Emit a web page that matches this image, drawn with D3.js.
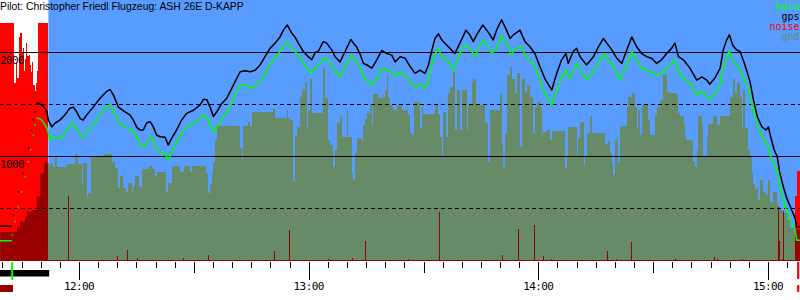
<!DOCTYPE html>
<html>
<head>
<meta charset="utf-8">
<script src="https://cdn.jsdelivr.net/npm/d3@7"></script>
<style>
  body { margin: 0; background: #fff; }
  svg { display: block; }
</style>
</head>
<body>
<script>
// times are minutes relative to 12:00, altitudes in metres
const viewMin = [-20.64, 188.36];
const towZone = [-20.64, -8.0];

const padMin = [-20.64, -17.5];
const padGps = [325, 325];
const padBaro = [185, 185];

const towGpsMin = [-17.2, -15.9, -14.6, -13.2, -12.4, -11.9, -11.5];
const towGpsAlt = [435, 655, 835, 1075, 1250, 1345, 1425];
const towBaroMin = [-17.4, -16.7, -15.9, -15.0, -14.1, -13.2, -12.6, -11.9, -11.5];
const towBaroAlt = [240, 370, 510, 655, 800, 945, 1060, 1200, 1300];

const gpsMin = [-11.2,-10.7,-9.7,-8.9,-8.4,-8.0,-7.1,-6.3,-5.0,-3.7,
  -2.4,-1.5,-0.6,0.3,1.1,2.0,3.7,5.5,7.2,8.1,
  9.0,10.3,12.0,13.3,14.2,15.1,15.9,16.8,17.7,18.6,
  19.4,20.3,21.2,22.5,23.3,24.2,25.5,26.8,28.1,29.9,
  31.6,32.5,33.4,34.2,35.1,36.0,37.3,38.6,39.9,41.2,
  42.1,43.4,44.7,46.0,47.3,48.6,49.9,51.2,52.5,53.4,
  54.4,55.6,56.4,57.3,58.6,59.9,60.8,61.7,62.5,63.8,
  64.7,66.0,66.9,68.2,69.5,71.0,71.7,72.5,73.4,74.3,
  75.2,76.5,77.8,79.1,80.4,81.7,82.6,83.9,85.2,86.5,
  87.8,89.1,90.4,91.3,92.1,93.0,93.9,94.8,96.1,96.9,
  98.2,99.5,101.1,102.1,103.0,103.9,105.5,106.3,107.4,108.2,
  109.1,110.4,111.7,112.6,113.5,115.2,116.5,117.8,119.1,120.4,
  121.7,123.5,124.8,126.1,127.2,127.8,129.1,130.0,130.9,132.6,
  134.4,135.7,137.0,137.9,139.2,140.5,141.8,143.1,144.4,145.7,
  147.0,148.3,149.6,150.9,152.2,153.5,154.8,155.7,156.6,157.9,
  159.6,161.4,162.7,164.0,164.8,166.2,167.5,168.3,169.2,169.9,
  170.8,171.8,172.7,173.6,174.4,175.3,176.2,177.2,178.4,179.5,
  180.1,180.7,181.6,182.4,183.1,184.0,184.9,186.2,187.1,187.5,
  188.4];
const gpsAlt = [1510,1510,1490,1460,1425,1345,1280,1315,1345,1395,
  1460,1470,1425,1360,1345,1395,1470,1555,1620,1640,
  1585,1470,1425,1395,1345,1275,1250,1250,1320,1330,
  1280,1200,1185,1180,1105,1170,1250,1345,1410,1440,
  1490,1545,1540,1475,1380,1425,1505,1555,1650,1745,
  1810,1820,1810,1825,1875,1955,2035,2085,2145,2210,
  2260,2180,2145,2085,2005,1955,1925,1995,2005,2100,
  2085,2020,1955,1905,2005,2120,2085,2050,1985,1890,
  1875,1845,1925,2015,1985,1970,1905,1955,1940,1860,
  1795,1825,1795,1875,2005,2130,2175,2115,2065,2035,
  1985,2085,2210,2165,2100,2165,2260,2220,2165,2115,
  2210,2310,2210,2130,2165,2210,2100,2050,1985,1860,
  1745,1635,1795,1925,1985,1890,2005,2035,1955,1875,
  1955,2050,2130,2085,2020,1940,1890,2020,2145,2050,
  1985,1955,1940,1890,1925,1985,2035,2085,1955,1925,
  1845,1730,1760,1730,1690,1755,1845,2020,2115,2165,
  2065,2020,2005,1915,1825,1715,1540,1380,1280,1250,
  1280,1185,1060,995,835,705,595,480,400,320,
  320];

const baroMin = [-11.1,-10.7,-9.7,-8.9,-8.4,-8.0,-7.6,-6.7,-5.4,-4.5,
  -3.2,-1.9,-1.3,-0.2,0.7,1.6,2.9,4.6,5.9,7.3,
  8.1,9.0,10.3,12.0,13.8,15.1,15.9,17.2,18.1,19.0,
  19.9,20.7,22.5,23.3,24.2,25.5,26.8,28.1,29.9,31.6,
  32.5,33.4,34.2,35.1,36.4,37.7,39.5,41.2,42.1,43.4,
  44.7,46.4,47.7,49.0,50.8,52.5,54.3,55.6,56.9,58.2,
  59.5,60.6,61.7,63.0,64.0,65.1,66.4,68.2,69.5,71.0,
  72.1,73.4,74.3,75.6,76.5,77.8,79.1,80.4,81.7,82.6,
  83.9,85.2,86.5,87.8,89.1,90.4,91.3,92.1,93.0,93.9,
  94.8,96.1,96.9,97.8,99.1,100.4,101.3,102.6,103.5,104.3,
  105.5,106.5,107.8,109.1,110.4,111.7,113.0,113.9,115.5,117.0,
  118.7,120.0,121.3,122.6,123.5,124.8,126.1,127.2,128.1,129.3,
  130.2,131.3,132.6,134.4,135.7,137.0,138.3,139.6,141.3,143.1,
  144.4,145.7,147.0,148.3,150.0,151.3,152.6,154.4,155.7,156.6,
  158.3,160.1,161.4,162.7,164.8,166.2,167.5,168.3,169.2,169.9,
  170.9,172.2,173.6,174.9,176.2,177.5,178.8,179.8,181.0,182.3,
  183.1,184.5,185.8,187.1,187.5,188.4];
const baroAlt = [1365,1365,1345,1300,1270,1220,1155,1185,1170,1185,
  1250,1315,1305,1235,1185,1200,1265,1345,1425,1475,
  1490,1435,1325,1280,1250,1185,1105,1090,1155,1185,
  1105,1040,1025,960,1040,1135,1220,1280,1315,1360,
  1395,1385,1300,1235,1300,1380,1475,1635,1675,1685,
  1650,1685,1730,1825,1925,2005,2100,2035,1985,1925,
  1845,1795,1845,1890,1940,1925,1845,1760,1860,1970,
  1925,1850,1760,1715,1685,1745,1845,1825,1810,1760,
  1810,1780,1715,1660,1685,1650,1730,1875,1985,2035,
  1955,1925,1890,1825,1955,2050,2065,2005,1955,2035,
  2110,2085,1985,2030,2160,2085,1970,2030,2050,1940,
  1890,1780,1635,1540,1490,1635,1760,1825,1745,1845,
  1890,1810,1730,1810,1890,1985,1925,1860,1730,1875,
  2005,1925,1845,1825,1795,1780,1810,1875,1925,1795,
  1740,1675,1585,1625,1540,1605,1685,1845,1955,2010,
  1915,1850,1760,1635,1440,1265,1155,1120,960,865,
  705,510,385,290,190,190];

const gndMin = [-20.6,-16.7,-16.2,-15.4,-14.1,-13.6,-12.3,-11.1,-10.2,-9.3,-8.9,-8.4,
  -7.8,-7.6,-6.7,-6.3,-5.8,-3.2,-1.0,-0.3,0.7,1.1,2.0,2.4,3.1,6.4,8.5,9.4,10.3,10.7,
  11.6,12.3,12.9,13.8,14.2,14.6,15.8,16.4,18.4,19.0,19.9,20.3,22.7,23.2,24.4,26.4,27.4,29.0,29.4,
  31.6,33.2,33.8,34.2,34.7,35.1,35.5,36.0,42.1,42.5,42.9,44.2,44.7,45.1,50.8,51.2,54.3,54.7,55.1,
  56.0,56.4,56.9,57.7,58.2,58.6,59.0,59.5,59.9,60.3,60.8,63.8,64.3,65.1,65.6,66.4,66.9,67.3,68.2,
  68.6,69.9,70.4,71.2,71.7,72.1,72.5,
  73.9,74.3,74.7,75.2,76.0,76.5,76.9,78.2,79.1,79.5,79.9,80.4,80.8,81.2,81.7,82.1,83.0,84.3,86.0,
  86.5,86.9,87.5,89.1,89.5,89.9,93.0,93.9,94.3,94.8,95.2,95.9,96.5,96.9,97.8,98.2,98.7,99.5,100.0,
  101.3,101.7,102.6,103.0,103.7,106.1,106.9,107.4,110.0,110.4,110.8,111.3,111.7,112.6,113.0,113.9,114.4,
  115.2,115.7,116.5,117.0,117.8,118.7,119.1,119.6,120.4,120.9,121.3,122.2,123.0,123.5,127.0,127.4,127.8,
  130.0,130.4,130.9,131.8,132.2,132.6,133.5,133.9,137.4,138.3,138.7,139.2,139.6,140.0,140.5,140.9,141.3,
  143.1,143.5,144.4,145.2,145.7,146.1,146.6,147.0,148.7,149.2,150.5,150.9,151.8,152.6,153.5,154.4,156.1,156.6,
  157.0,158.0,158.3,158.7,160.5,160.9,161.4,161.8,162.7,163.1,164.0,164.4,165.7,166.6,167.4,170.1,170.9,
  171.4,171.8,172.7,173.1,173.5,174.0,174.8,175.3,175.7,176.1,176.6,177.0,177.5,177.9,178.8,179.6,180.1,
  180.5,181.4,182.3,182.7,183.1,184.0,184.9,185.7,186.6,188.4];
const gndAlt = [270,270,320,370,415,465,480,610,835,930,945,930,
  895,925,895,995,895,925,1020,925,740,935,610,645,995,1020,945,885,690,810,
  690,655,745,655,715,810,705,875,905,875,810,850,650,745,905,850,905,850,905,
  905,835,640,735,835,945,1155,1290,1075,960,1290,1330,1290,1425,1450,1370,1450,1370,1345,
  755,1185,1280,1570,1665,1635,1715,1265,1440,1745,1410,1845,1555,1155,1105,895,1060,1315,1380,
  1185,1440,1185,835,770,1025,1170,
  1140,1300,1360,1410,1490,1300,1595,1555,1595,1555,1635,1780,1570,1490,1470,1440,1490,1440,1395,
  1220,1200,1520,1265,1490,1405,1490,1405,1185,995,1425,1185,1605,1665,1810,1250,1635,1250,1635,
  1250,1490,1715,1745,1490,1315,945,1440,1605,1120,895,1220,1780,1860,1745,1605,1795,
  1090,1745,1620,1685,1570,1220,1475,1520,1475,1200,1235,1250,1155,1245,880,995,1280,
  995,1170,1330,915,995,1225,1380,1225,1120,1140,1025,930,815,1155,1185,930,1290,
  1475,1565,1610,1475,1265,1440,1200,1490,1345,1200,1395,1475,1540,1780,1620,1605,1585,1410,
  1380,1300,1200,1155,945,895,1060,1380,1300,995,1185,1310,1385,1300,1385,1570,1745,
  1605,1700,1570,1265,1635,1265,1060,995,835,735,675,705,575,770,655,625,770,
  560,655,530,510,480,450,385,305,290,290];

// engine noise level, 0..1000
const noiseMin = [-20.64,-16.98,-16.59,-16.33,-16.07,-15.80,-15.41,-15.02,-14.76,-14.50,-14.11,-13.85,
  -13.58,-13.19,-12.93,-12.54,-12.28,-12.02,-11.62,-11.36,-11.10,-10.84,-10.63,-8.02,
  -2.80,-2.55,9.85,10.10,12.62,12.87,15.07,15.32,27.09,27.34,33.78,34.03,50.94,51.19,54.94,55.19,
  65.13,65.38,71.39,71.64,74.79,75.04,86.02,86.27,94.12,94.37,110.58,110.83,114.76,115.01,
  118.94,119.19,121.29,121.54,123.22,123.47,137.85,138.10,140.20,140.45,144.28,144.53,
  155.82,156.07,165.96,166.21,166.74,166.99,173.12,173.37,
  182.68,182.94,183.20,183.57,183.82,183.98,184.23,187.04,187.64,188.36];
const noiseLevel = [1000,750,725,835,770,940,960,880,895,800,850,915,
  860,865,825,795,835,740,715,750,800,850,1000,6,
  275,6,21,6,45,6,11,6,14,6,25,6,40,6,130,6,
  10,6,14,6,85,6,10,6,205,6,25,6,135,6,
  150,6,20,6,10,6,40,6,10,6,80,6,
  10,6,15,6,10,6,10,6,
  225,85,6,10,6,210,6,275,380,380];

const solidLevels = [1000, 2000];
const dashedLevels = [500, 1500];
const altLabels = [2000, 1000];

const legendNames = ["baro", "gps", "noise", "gnd"];
const legendColors = ["#00ff00", "#000000", "#ff0000", "#678a67"];

const titleText = "Pilot: Christopher Friedl Flugzeug: ASH 26E D-KAPP";

// strip below the time axis
const towBar = [-20.64, -7.8];
const launchAt = -17.45;
const noiseFlagsLeft = [-20.64, -17.25];
const noiseFlagsRight = [187.6, 188.15];

const W = 800, H = 300, bottom = 261;
const noon = new Date(2000, 0, 1, 12, 0, 0);
const at = m => new Date(+noon + m * 60000);
const zip = (ms, vs) => ms.map((m, i) => ({ t: at(m), v: vs[i] }));

const x = d3.scaleTime().domain(viewMin.map(at)).range([0, W]);
const y = d3.scaleLinear().domain([0, 2500]).range([260, 0]);
const yNoise = d3.scaleLinear().domain([0, 1000]).range([bottom, 23]);

const svg = d3.select("body").append("svg")
    .attr("width", W)
    .attr("height", H);

const monoFont = "11px 'DejaVu Sans Mono', monospace";
const legendFont = "10px 'DejaVu Sans Mono', monospace";

// background
svg.append("rect")
    .attr("x", 0).attr("y", 0)
    .attr("width", W).attr("height", bottom)
    .attr("fill", "#589cff");
svg.append("rect")
    .attr("x", x(at(towZone[0])))
    .attr("y", 0)
    .attr("width", x(at(towZone[1])) - x(at(towZone[0])))
    .attr("height", bottom)
    .attr("fill", "#ffffff");

const gnd = zip(gndMin, gndAlt);
const noise = zip(noiseMin, noiseLevel);

const gndArea = d3.area()
    .curve(d3.curveStepAfter)
    .x(d => x(d.t))
    .y0(bottom)
    .y1(d => y(d.v));

const noiseArea = d3.area()
    .curve(d3.curveStepAfter)
    .x(d => x(d.t))
    .y0(bottom)
    .y1(d => yNoise(d.v));

svg.append("clipPath")
    .attr("id", "gnd-clip")
    .append("path")
    .attr("d", gndArea(gnd));

svg.append("path")
    .attr("d", noiseArea(noise))
    .attr("fill", "#ff0000")
    .attr("shape-rendering", "crispEdges");

svg.append("path")
    .attr("d", gndArea(gnd))
    .attr("fill", "#678a67")
    .attr("shape-rendering", "crispEdges");

svg.append("path")
    .attr("d", noiseArea(noise))
    .attr("fill", "#990000")
    .attr("clip-path", "url(#gnd-clip)")
    .attr("shape-rendering", "crispEdges");

// altitude grid
svg.append("g")
    .selectAll("line")
    .data(solidLevels.concat(dashedLevels))
    .join("line")
    .attr("x1", 0)
    .attr("x2", W)
    .attr("y1", d => Math.round(y(d)) + 0.5)
    .attr("y2", d => Math.round(y(d)) + 0.5)
    .attr("stroke", "#000")
    .attr("stroke-width", 1)
    .attr("stroke-dasharray", d => dashedLevels.includes(d) ? "4,3" : null);

// flight traces
const line = d3.line()
    .x(d => x(d.t))
    .y(d => y(d.v));

const traces = [
  [zip(padMin, padGps), "#000"],
  [zip(padMin, padBaro), "#00ff00"],
  [zip(gpsMin, gpsAlt), "#000"],
  [zip(baroMin, baroAlt), "#00ff00"]
];

svg.append("g")
    .selectAll("path")
    .data(traces)
    .join("path")
    .attr("d", d => line(d[0]))
    .attr("fill", "none")
    .attr("stroke", d => d[1])
    .attr("stroke-width", 1.5)
    .attr("stroke-linejoin", "round");

const dots = zip(towGpsMin, towGpsAlt).map(d => ({ ...d, c: "#000" }))
    .concat(zip(towBaroMin, towBaroAlt).map(d => ({ ...d, c: "#00ff00" })));

svg.append("g")
    .selectAll("rect")
    .data(dots)
    .join("rect")
    .attr("x", d => x(d.t) - 0.7)
    .attr("y", d => y(d.v) - 0.7)
    .attr("width", 1.4)
    .attr("height", 1.4)
    .attr("fill", d => d.c);

// altitude labels
svg.append("g")
    .selectAll("text")
    .data(altLabels)
    .join("text")
    .attr("x", 0)
    .attr("y", d => y(d) + 11.5)
    .style("font", monoFont)
    .style("letter-spacing", "-0.6px")
    .attr("fill", "#000")
    .text(d => d);

// title
svg.append("text")
    .attr("x", 0)
    .attr("y", 9.5)
    .style("font", "10.4px 'Liberation Sans', Arial, sans-serif")
    .attr("fill", "#000")
    .text(titleText);

// legend
svg.append("g")
    .selectAll("text")
    .data(legendNames)
    .join("text")
    .attr("x", 799.6)
    .attr("y", (d, i) => 10 + i * 10)
    .attr("text-anchor", "end")
    .style("font", legendFont)
    .attr("fill", (d, i) => legendColors[i])
    .text(d => d);

// time axis
const ticks = x.ticks(d3.timeMinute.every(5));
const tickLen = t => t.getMinutes() === 0 ? 18 : t.getMinutes() === 30 ? 11 : 6;

svg.append("g")
    .selectAll("line")
    .data(ticks)
    .join("line")
    .attr("x1", d => Math.round(x(d)) + 0.5)
    .attr("x2", d => Math.round(x(d)) + 0.5)
    .attr("y1", bottom + 1)
    .attr("y2", d => bottom + 1 + tickLen(d))
    .attr("stroke", "#000");

svg.append("g")
    .selectAll("text")
    .data(ticks.filter(t => t.getMinutes() === 0))
    .join("text")
    .attr("x", d => x(d))
    .attr("y", 290)
    .attr("text-anchor", "middle")
    .style("font", monoFont)
    .style("letter-spacing", "-0.6px")
    .text(d3.timeFormat("%H:%M"));

// flight phase strip
svg.append("rect")
    .attr("x", x(at(towBar[0])))
    .attr("y", 270)
    .attr("width", x(at(towBar[1])) - x(at(towBar[0])))
    .attr("height", 6.5)
    .attr("fill", "#000");

svg.append("rect")
    .attr("x", x(at(launchAt)) - 1)
    .attr("y", bottom + 1)
    .attr("width", 2)
    .attr("height", 18)
    .attr("fill", "#00ff00");

svg.append("rect")
    .attr("x", x(at(noiseFlagsLeft[0])))
    .attr("y", 285)
    .attr("width", x(at(noiseFlagsLeft[1])) - x(at(noiseFlagsLeft[0])))
    .attr("height", 7)
    .attr("fill", "#990000");

[[bottom + 1, 17], [285, 7]].forEach(([top, h]) => {
  svg.append("rect")
      .attr("x", x(at(noiseFlagsRight[0])))
      .attr("y", top)
      .attr("width", x(at(noiseFlagsRight[1])) - x(at(noiseFlagsRight[0])))
      .attr("height", h)
      .attr("fill", "#ff0000");
});
</script>
</body>
</html>
